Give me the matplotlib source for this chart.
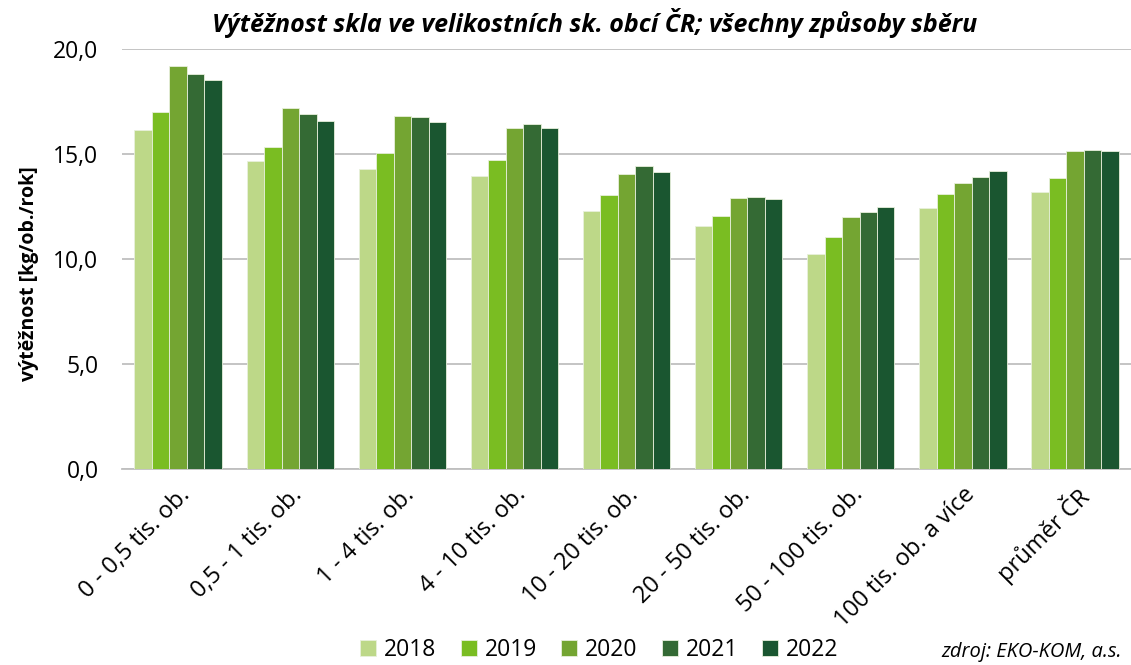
import numpy as np
import matplotlib
matplotlib.use("Agg")
import matplotlib.pyplot as plt
from matplotlib.ticker import FuncFormatter

plt.rcParams['font.family'] = ['Open Sans', 'DejaVu Sans']

# data
categories = ["0 - 0,5 tis. ob.", "0,5 - 1 tis. ob.", "1 - 4 tis. ob.", "4 - 10 tis. ob.",
              "10 - 20 tis. ob.", "20 - 50 tis. ob.", "50 - 100 tis. ob.",
              "100 tis. ob. a více", "průměr ČR"]
years = ["2018", "2019", "2020", "2021", "2022"]
v2018 = [16.11, 14.63, 14.29, 13.95, 12.29, 11.54, 10.21, 12.43, 13.16]
v2019 = [17.00, 15.33, 15.03, 14.70, 13.05, 12.05, 11.02, 13.08, 13.86]
v2020 = [19.16, 17.16, 16.81, 16.24, 14.02, 12.90, 11.97, 13.60, 15.11]
v2021 = [18.81, 16.87, 16.76, 16.40, 14.40, 12.92, 12.21, 13.89, 15.19]
v2022 = [18.48, 16.57, 16.52, 16.24, 14.11, 12.84, 12.44, 14.16, 15.13]
colors = ["#bdd888", "#7abd22", "#74a532", "#346a34", "#1a5630"]

series = [v2018, v2019, v2020, v2021, v2022]

fig = plt.figure(figsize=(11.31, 6.65), dpi=100)
ax = fig.add_axes([0.108, 0.295, 0.892, 0.632])

x = np.arange(len(categories))
w = 0.156
for i, (vals, col, yr) in enumerate(zip(series, colors, years)):
    ax.bar(x + (i - 2) * w, vals, w, color=col, label=yr,
           edgecolor="#e8f0dc", linewidth=0.6, zorder=3)

ax.set_xlim(-0.5, len(categories) - 0.5)
ax.set_ylim(0, 20)
ax.set_yticks([0, 5, 10, 15, 20])
ax.yaxis.set_major_formatter(FuncFormatter(lambda v, p: f"{v:.1f}".replace(".", ",")))
ax.grid(axis="y", color="#bfbfbf", linewidth=1.3, zorder=0)
for s in ["top", "right", "left"]:
    ax.spines[s].set_visible(False)
ax.spines["bottom"].set_color("#bfbfbf")
ax.spines["bottom"].set_linewidth(1.3)
ax.tick_params(axis="both", length=0)
ax.tick_params(axis="y", pad=17, labelsize=16.5)

ax.set_xticks(x)
ax.set_xticklabels(categories, rotation=45, ha="right", rotation_mode="anchor", fontsize=17)
ax.tick_params(axis="x", pad=10)

ax.set_ylabel("výtěžnost [kg/ob./rok]", fontsize=14, fontweight="bold")
ax.yaxis.set_label_coords(-0.082, 0.465)
fig.text(0.526, 0.965, "Výtěžnost skla ve velikostních sk. obcí ČR; všechny způsoby sběru",
         ha="center", va="center", fontsize=18, fontweight="bold", style="italic")

fig.legend(loc="lower center", bbox_to_anchor=(0.53, -0.027), ncol=5, frameon=False,
           fontsize=16.5, handlelength=0.7, handleheight=0.7, handletextpad=0.35,
           columnspacing=1.05)
fig.text(0.992, 0.02, "zdroj: EKO-KOM, a.s.", ha="right", va="center",
         fontsize=14.5, style="italic")

fig.savefig("out.png", dpi=100)
